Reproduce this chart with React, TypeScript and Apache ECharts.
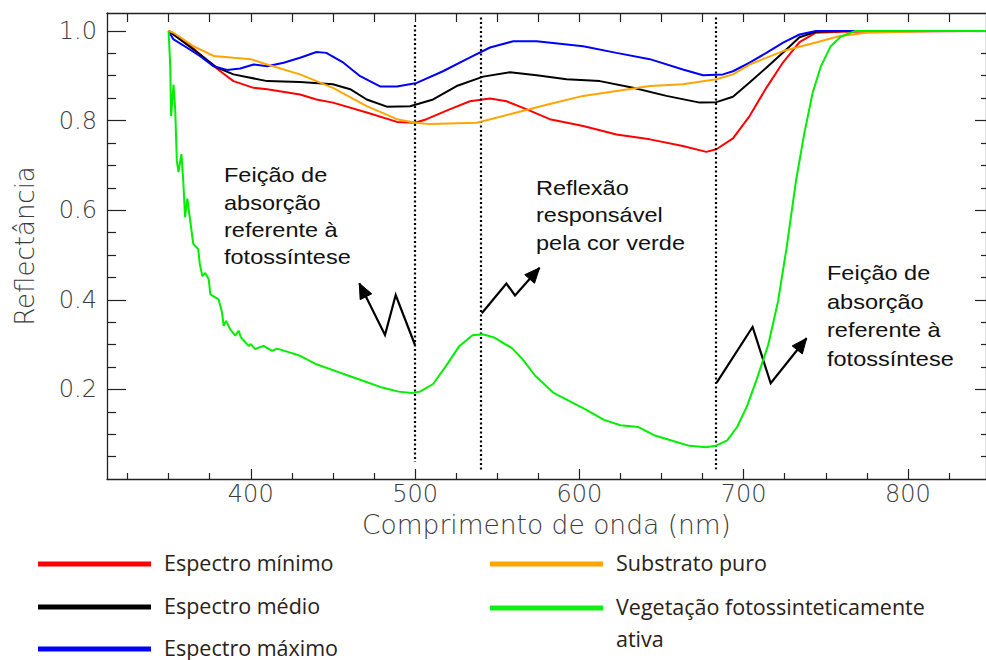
import React, { useEffect, useRef } from 'react';
import * as echarts from 'echarts';

// ---------- DATA ----------
const seriesNames = [
  'Espectro mínimo',
  'Espectro médio',
  'Espectro máximo',
  'Substrato puro',
  'Vegetação fotossinteticamente ativa',
];
const seriesColors = ['#ff0000', '#000000', '#0000ff', '#ffa500', '#00ee00'];

const minWl = [350, 357, 361, 369, 377.5, 385.5, 389.5, 401.7, 410, 430, 440, 450, 470.6, 489, 500, 507, 521, 533.4, 545.6, 555.7, 568, 582, 602.3, 622.6, 642.9, 663, 677.3, 683.4, 693.5, 703.6, 713.8, 724, 734, 744, 760, 847.5];
const minR = [1.0, 0.985, 0.974, 0.948, 0.921, 0.899, 0.888, 0.873, 0.87, 0.858, 0.847, 0.84, 0.818, 0.797, 0.795, 0.803, 0.825, 0.843, 0.849, 0.843, 0.825, 0.803, 0.788, 0.769, 0.758, 0.743, 0.73, 0.736, 0.76, 0.81, 0.873, 0.93, 0.975, 0.996, 0.998, 1.0];

const medWl = [350, 369, 379.5, 389.5, 410, 430, 450, 460.5, 470.6, 482.8, 497, 511, 525.3, 541.5, 557.8, 574, 592.2, 612.5, 632.7, 653, 673.3, 683.4, 693.5, 703.6, 713.8, 724, 734, 744, 760, 847.5];
const medR = [1.0, 0.948, 0.918, 0.903, 0.888, 0.886, 0.881, 0.87, 0.847, 0.831, 0.832, 0.847, 0.877, 0.898, 0.908, 0.901, 0.892, 0.888, 0.873, 0.855, 0.84, 0.841, 0.853, 0.885, 0.918, 0.952, 0.986, 0.998, 1.0, 1.0];

const maxWl = [350, 353, 361, 369, 377.5, 385.5, 393.6, 401.7, 410, 420, 430, 440, 446, 456.4, 466.6, 478.7, 489, 501, 517, 531.4, 545.6, 559.8, 574, 602.3, 622.6, 642.9, 663, 675.3, 687.4, 693.5, 703.6, 713.8, 724, 734, 744, 847.5];
const maxR = [1.0, 0.981, 0.963, 0.944, 0.921, 0.913, 0.916, 0.925, 0.921, 0.929, 0.94, 0.953, 0.951, 0.929, 0.899, 0.876, 0.876, 0.884, 0.91, 0.937, 0.963, 0.977, 0.977, 0.966, 0.951, 0.937, 0.914, 0.901, 0.903, 0.91, 0.929, 0.951, 0.974, 0.992, 1.0, 1.0];

const soilWl = [350, 353, 365, 377.5, 389.5, 400, 410, 430, 440, 450, 470.6, 489, 500, 509, 537.5, 561.8, 582, 602.3, 622.6, 642.9, 663, 683.4, 693.5, 703.6, 724, 744, 758, 774.5, 815, 847.5];
const soilR = [1.0, 0.996, 0.966, 0.944, 0.94, 0.937, 0.925, 0.903, 0.888, 0.873, 0.832, 0.803, 0.795, 0.792, 0.795, 0.818, 0.837, 0.855, 0.866, 0.877, 0.881, 0.892, 0.903, 0.925, 0.955, 0.974, 0.988, 0.996, 1.0, 1.0];

const vegWl = [350, 351, 351.5, 353, 354, 355, 356, 357.8, 359, 360, 361.4, 363, 365, 368, 369, 370.5, 372.3, 374.4, 375.4, 380.4, 382.5, 383.5, 385, 387.5, 390.6, 392.6, 394, 398.7, 400, 402.7, 407.8, 413, 416, 424, 430, 440, 450, 460, 470, 480, 490, 498, 503, 511, 519, 527, 535, 541, 548, 559, 565, 573, 584, 594, 604, 615, 625, 636, 646, 656, 667, 677, 683, 690, 696, 702, 708, 715, 721, 726, 732, 737, 742, 747, 753, 759, 768, 790, 847.5];
const vegR = [1.0, 0.92, 0.81, 0.88, 0.825, 0.71, 0.685, 0.725, 0.66, 0.584, 0.626, 0.58, 0.525, 0.513, 0.48, 0.453, 0.46, 0.446, 0.412, 0.401, 0.372, 0.342, 0.353, 0.334, 0.32, 0.331, 0.316, 0.297, 0.301, 0.29, 0.297, 0.286, 0.291, 0.282, 0.275, 0.256, 0.243, 0.23, 0.217, 0.204, 0.195, 0.192, 0.195, 0.212, 0.253, 0.297, 0.321, 0.323, 0.316, 0.292, 0.269, 0.231, 0.193, 0.174, 0.155, 0.132, 0.12, 0.116, 0.097, 0.086, 0.074, 0.071, 0.074, 0.086, 0.116, 0.162, 0.223, 0.3, 0.398, 0.513, 0.669, 0.773, 0.862, 0.921, 0.966, 0.987, 1.0, 1.0, 1.0];

const wlSets = [minWl, medWl, maxWl, soilWl, vegWl];
const rSets = [minR, medR, maxR, soilR, vegR];

const xMajorTicks = [400, 500, 600, 700, 800];
const xMinorTicks = [325, 350, 375, 425, 450, 475, 525, 550, 575, 625, 650, 675, 725, 750, 775, 825];
const xAllTicks = [325, 350, 375, 400, 425, 450, 475, 500, 525, 550, 575, 600, 625, 650, 675, 700, 725, 750, 775, 800, 825];
const yMajorTicks = [0.2, 0.4, 0.6, 0.8, 1.0];
const yMinorTicks = [0.05, 0.1, 0.15, 0.25, 0.3, 0.35, 0.45, 0.5, 0.55, 0.65, 0.7, 0.75, 0.85, 0.9, 0.95];

const markerWavelengths = [500, 540, 683];
const markerTop = [1.013, 1.03, 1.03];
const markerBottom = [0.038, 0.018, 0.022];

const annotationTexts = [
  'Feição de\nabsorção\nreferente à\nfotossíntese',
  'Reflexão\nresponsável\npela cor verde',
  'Feição de\nabsorção\nreferente à\nfotossíntese',
];

// ---------- LAYOUT ----------
const X_MIN = 312.5;
const X_MAX = 847.5;
const Y_MIN = 0;
const Y_MAX = 1.04;

const axisColor = '#222';
const tickFont = { fontFamily: 'DejaVu Sans', fontWeight: 200 as any, color: '#3c3c3c' };

function arrowHead(pts: number[][]) {
  const [x1, y1] = pts[pts.length - 2];
  const [x2, y2] = pts[pts.length - 1];
  const dx = x2 - x1, dy = y2 - y1;
  const L = Math.hypot(dx, dy);
  const ux = dx / L, uy = dy / L;
  const hl = 15, hw = 6.5;
  const bx = x2 - ux * hl, by = y2 - uy * hl;
  return [[x2, y2], [bx - uy * hw, by + ux * hw], [bx + uy * hw, by - ux * hw]];
}

const arrows = [
  [[415, 345], [395.7, 295], [385, 335], [359.3, 283.3]],
  [[481.8, 313.2], [506.4, 283.5], [515, 295.5], [539.6, 267.8]],
  [[716.7, 382.6], [752.6, 327], [770.7, 383.3], [806.6, 338.2]],
];

function buildOption() {
  const series: any[] = seriesNames.map((name, i) => ({
    name,
    type: 'line',
    xAxisIndex: 0,
    yAxisIndex: 0,
    showSymbol: false,
    symbol: 'none',
    smooth: false,
    data: wlSets[i].map((w, k) => [w, rSets[i][k]]),
    lineStyle: { color: seriesColors[i], width: 2 },
    itemStyle: { color: seriesColors[i] },
    z: 2 + i,
  }));
  series[4].markLine = {
    silent: true,
    symbol: 'none',
    label: { show: false },
    lineStyle: { color: '#000', width: 2.2, type: [2, 2.5] },
    data: markerWavelengths.map((w, i) => [
      { coord: [w, markerTop[i]] },
      { coord: [w, markerBottom[i]] },
    ]),
  };

  const graphics: any[] = [];
  const annPos = [
    { x: 224, y: 161.7, lh: 27.3 },
    { x: 536, y: 174, lh: 27.5 },
    { x: 827, y: 259, lh: 28.5 },
  ];
  annotationTexts.forEach((t, i) => {
    graphics.push({
      type: 'text',
      x: annPos[i].x,
      y: annPos[i].y,
      scaleX: 1.12,
      style: {
        text: t,
        fontFamily: 'Liberation Sans, Arial, sans-serif',
        fontSize: 21,
        lineHeight: annPos[i].lh,
        fill: '#111',
        verticalAlign: 'top',
        align: 'left',
      },
    });
  });
  arrows.forEach((pts) => {
    graphics.push({
      type: 'polyline',
      shape: { points: pts },
      style: { stroke: '#000', lineWidth: 2.2, fill: null },
    });
    graphics.push({
      type: 'polygon',
      shape: { points: arrowHead(pts) },
      style: { fill: '#000', stroke: '#000', lineWidth: 1 },
    });
  });

  // legend (drawn as graphic items)
  const legendItems = [
    { idx: 0, lx: 38, y: 564, text: seriesNames[0] },
    { idx: 1, lx: 38, y: 607, text: seriesNames[1] },
    { idx: 2, lx: 38, y: 649, text: seriesNames[2] },
    { idx: 3, lx: 490, y: 564, text: seriesNames[3] },
    { idx: 4, lx: 490, y: 608, text: 'Vegetação fotossinteticamente\nativa' },
  ];
  legendItems.forEach((it) => {
    graphics.push({
      type: 'rect',
      shape: { x: it.lx, y: it.y - 2.5, width: 113, height: 5 },
      style: { fill: seriesColors[it.idx] === '#00ee00' ? '#11ee11' : seriesColors[it.idx] },
    });
    graphics.push({
      type: 'text',
      x: it.lx + 126,
      y: it.y - 18,
      style: {
        text: it.text,
        fontFamily: 'Open Sans, sans-serif',
        fontSize: 21.5,
        lineHeight: 32,
        fill: '#2a2118',
        verticalAlign: 'top',
        align: 'left',
      },
    });
  });

  const baseX = { type: 'value', min: X_MIN, max: X_MAX, splitLine: { show: false } };
  const baseY = { type: 'value', min: Y_MIN, max: Y_MAX, splitLine: { show: false } };

  return {
    animation: false,
    backgroundColor: '#fff',
    grid: { left: 107, top: 13, width: 880, height: 466, containLabel: false },
    xAxis: [
      {
        ...baseX,
        position: 'bottom',
        axisLine: { show: true, onZero: false, lineStyle: { color: axisColor, width: 1.3 } },
        axisTick: { show: true, inside: true, length: 10, customValues: xMajorTicks, lineStyle: { color: axisColor, width: 1.2 } },
        axisLabel: { show: true, customValues: xMajorTicks, fontSize: 24, margin: 3, ...tickFont },
        name: 'Comprimento de onda (nm)',
        nameLocation: 'middle',
        nameGap: 20,
        nameTextStyle: { fontSize: 26.5, ...tickFont, verticalAlign: 'top' },
      },
      {
        ...baseX,
        position: 'bottom',
        axisLine: { show: false },
        axisTick: { show: true, inside: true, length: 6, customValues: xMinorTicks, lineStyle: { color: axisColor, width: 1.2 } },
        axisLabel: { show: false },
      },
      {
        ...baseX,
        position: 'top',
        axisLine: { show: true, onZero: false, lineStyle: { color: axisColor, width: 1.3 } },
        axisTick: { show: true, inside: true, length: 9, customValues: xAllTicks, lineStyle: { color: axisColor, width: 1.2 } },
        axisLabel: { show: false },
      },
    ],
    yAxis: [
      {
        ...baseY,
        position: 'left',
        axisLine: { show: true, onZero: false, lineStyle: { color: axisColor, width: 1.3 } },
        axisTick: { show: true, inside: true, length: 19, customValues: yMajorTicks, lineStyle: { color: axisColor, width: 1.2 } },
        axisLabel: {
          show: true,
          customValues: yMajorTicks,
          formatter: (v: number) => v.toFixed(1),
          fontSize: 24,
          margin: 10,
          ...tickFont,
        },
        name: 'Reflectância',
        nameLocation: 'middle',
        nameRotate: 90,
        nameGap: 69,
        nameTextStyle: { fontSize: 26, ...tickFont },
      },
      {
        ...baseY,
        position: 'left',
        axisLine: { show: false },
        axisTick: { show: true, inside: true, length: 9, customValues: yMinorTicks, lineStyle: { color: axisColor, width: 1.2 } },
        axisLabel: { show: false },
      },
      {
        ...baseY,
        position: 'right',
        axisLine: { show: true, onZero: false, lineStyle: { color: axisColor, width: 1.3 } },
        axisTick: { show: true, inside: true, length: 11, customValues: yMajorTicks, lineStyle: { color: axisColor, width: 1.2 } },
        axisLabel: { show: false },
      },
      {
        ...baseY,
        position: 'right',
        axisLine: { show: false },
        axisTick: { show: true, inside: true, length: 5, customValues: yMinorTicks, lineStyle: { color: axisColor, width: 1.2 } },
        axisLabel: { show: false },
      },
    ],
    series,
    graphic: graphics,
  };
}

export default function App() {
  const ref = useRef<HTMLDivElement>(null);
  useEffect(() => {
    if (!ref.current) return;
    const chart = echarts.init(ref.current, null, { renderer: 'svg' });
    chart.setOption(buildOption() as any);
    return () => chart.dispose();
  }, []);
  return (
    <div
      ref={ref}
      style={{ position: 'absolute', left: 0, top: 0, width: 986, height: 660, background: '#fff' }}
    />
  );
}
